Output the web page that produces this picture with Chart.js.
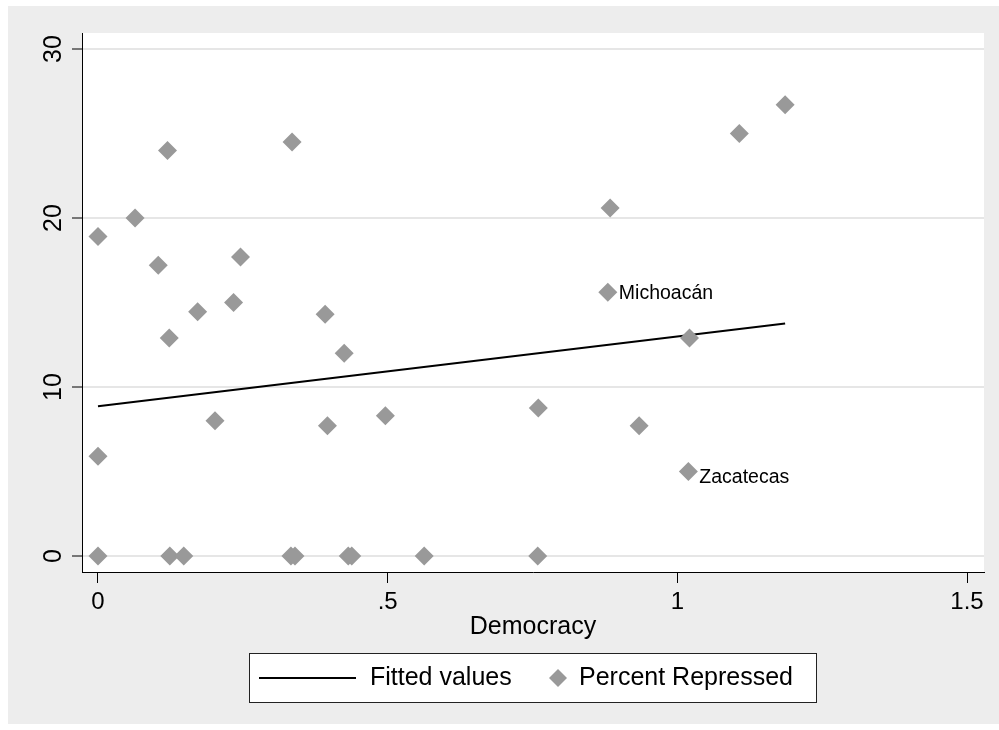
<!DOCTYPE html>
<html>
<head>
<meta charset="utf-8">
<title>Percent Repressed vs Democracy</title>
<script src="https://cdn.jsdelivr.net/npm/chart.js@4.4.1/dist/chart.umd.min.js"></script>
<style>
  html, body { margin: 0; padding: 0; background: #ffffff; }
  canvas { display: block; }
</style>
</head>
<body>
<canvas id="chart" width="999" height="730"></canvas>
<script>
// Scatter points
const democracy = [0, 0, 0, 0.064, 0.104, 0.120, 0.123, 0.124, 0.148, 0.172, 0.202, 0.234, 0.246,
  0.335, 0.333, 0.340, 0.392, 0.396, 0.425, 0.432, 0.438, 0.496, 0.563, 0.760, 0.759,
  0.880, 0.884, 0.934, 1.021, 1.019, 1.107, 1.186];
const repressed = [18.9, 5.9, 0, 20.0, 17.2, 24.0, 12.9, 0, 0, 14.45, 8.0, 15.0, 17.7,
  24.5, 0, 0, 14.3, 7.7, 12.0, 0, 0, 8.3, 0, 8.75, 0,
  15.6, 20.6, 7.7, 12.9, 5.0, 25.0, 26.7];
const stateLabels = { 25: 'Michoacán', 29: 'Zacatecas' };

// Fitted values (linear fit)
const fitX = [0, 1.186];
const fitY = [8.86, 13.76];

const xTicks = [0, 0.5, 1, 1.5];
const xTickLabels = ['0', '.5', '1', '1.5'];
const yTicks = [0, 10, 20, 30];

const legendLabels = ['Fitted values', 'Percent Repressed'];
const xTitle = 'Democracy';

const FONT = '"Liberation Sans", Arial, Helvetica, sans-serif';
const MARKER_GRAY = '#999999';

const backgroundPlugin = {
  id: 'stataBackground',
  beforeDraw(chart) {
    const { ctx, chartArea } = chart;
    ctx.save();
    ctx.fillStyle = '#ffffff';
    ctx.fillRect(0, 0, chart.width, chart.height);
    ctx.fillStyle = '#ededed';
    ctx.fillRect(8, 6, chart.width - 8, 718);
    ctx.fillStyle = '#ffffff';
    ctx.fillRect(chartArea.left, chartArea.top, chartArea.right - chartArea.left, chartArea.bottom - chartArea.top);
    ctx.restore();
  }
};

// Marker labels to the right of two points
const pointLabelPlugin = {
  id: 'pointLabels',
  afterDatasetsDraw(chart) {
    const { ctx } = chart;
    const meta = chart.getDatasetMeta(0);
    const shiftY = { 25: 1.5, 29: 6.5 };
    ctx.save();
    ctx.font = '19.5px ' + FONT;
    ctx.fillStyle = '#000000';
    ctx.textAlign = 'left';
    ctx.textBaseline = 'middle';
    Object.keys(stateLabels).forEach(i => {
      const pt = meta.data[i];
      ctx.fillText(stateLabels[i], pt.x + 11, pt.y + shiftY[i]);
    });
    ctx.restore();
  }
};

const legendPlugin = {
  id: 'boxLegend',
  afterDraw(chart) {
    const { ctx } = chart;
    const box = { left: 249, top: 653, width: 567, height: 49 };
    const cy = box.top + box.height / 2 + 0.5;
    ctx.save();
    ctx.fillStyle = '#ffffff';
    ctx.fillRect(box.left, box.top, box.width, box.height);
    ctx.strokeStyle = '#222222';
    ctx.lineWidth = 1;
    ctx.strokeRect(box.left + 0.5, box.top + 0.5, box.width, box.height);

    ctx.strokeStyle = '#000000';
    ctx.lineWidth = 2;
    ctx.beginPath();
    ctx.moveTo(259, cy);
    ctx.lineTo(356, cy);
    ctx.stroke();

    ctx.fillStyle = MARKER_GRAY;
    ctx.beginPath();
    ctx.moveTo(558, cy - 9);
    ctx.lineTo(567, cy);
    ctx.lineTo(558, cy + 9);
    ctx.lineTo(549, cy);
    ctx.closePath();
    ctx.fill();

    ctx.fillStyle = '#000000';
    ctx.font = '25px ' + FONT;
    ctx.textAlign = 'left';
    ctx.textBaseline = 'middle';
    ctx.fillText(legendLabels[0], 370, cy);
    ctx.fillText(legendLabels[1], 579, cy);
    ctx.restore();
  }
};

const scatterPoints = democracy.map((x, i) => ({ x: x, y: repressed[i] }));
const fitPoints = fitX.map((x, i) => ({ x: x, y: fitY[i] }));

new Chart(document.getElementById('chart'), {
  type: 'scatter',
  data: {
    datasets: [
      {
        label: legendLabels[1],
        data: scatterPoints,
        pointStyle: 'rectRot',
        pointRadius: 9.5,
        pointHoverRadius: 9.5,
        pointBackgroundColor: MARKER_GRAY,
        pointBorderColor: MARKER_GRAY,
        pointBorderWidth: 0
      },
      {
        label: legendLabels[0],
        data: fitPoints,
        showLine: true,
        borderColor: '#000000',
        borderWidth: 2,
        pointRadius: 0,
        pointHoverRadius: 0
      }
    ]
  },
  options: {
    responsive: false,
    animation: false,
    layout: { padding: { left: 0, top: 33, right: 15, bottom: 0 } },
    plugins: {
      legend: { display: false },
      tooltip: { enabled: false }
    },
    scales: {
      x: {
        type: 'linear',
        min: -0.0276,
        max: 1.5293,
        afterBuildTicks: scale => { scale.ticks = xTicks.map(v => ({ value: v })); },
        afterFit: scale => { scale.height = 158; },
        border: { display: true, color: '#000000', width: 1 },
        grid: {
          display: true,
          drawOnChartArea: false,
          drawTicks: true,
          tickLength: 11,
          tickColor: '#000000',
          tickWidth: 1
        },
        ticks: {
          padding: 5,
          color: '#000000',
          maxRotation: 0,
          font: { family: FONT, size: 24 },
          callback: value => xTickLabels[xTicks.indexOf(value)]
        },
        title: {
          display: true,
          text: xTitle,
          color: '#000000',
          font: { family: FONT, size: 25 },
          padding: { top: 0, bottom: 88 }
        }
      },
      y: {
        type: 'linear',
        min: -0.95,
        max: 30.95,
        afterBuildTicks: scale => { scale.ticks = yTicks.map(v => ({ value: v })); },
        afterFit: scale => { scale.width = 82; },
        border: { display: true, color: '#000000', width: 1 },
        grid: {
          display: true,
          color: '#e6e6e6',
          lineWidth: 2,
          drawTicks: true,
          tickLength: 10,
          tickColor: '#000000',
          tickWidth: 1
        },
        ticks: {
          padding: 4,
          color: '#000000',
          minRotation: 90,
          maxRotation: 90,
          crossAlign: 'center',
          font: { family: FONT, size: 25 },
          callback: value => String(value)
        }
      }
    }
  },
  plugins: [backgroundPlugin, pointLabelPlugin, legendPlugin]
});
</script>
</body>
</html>
